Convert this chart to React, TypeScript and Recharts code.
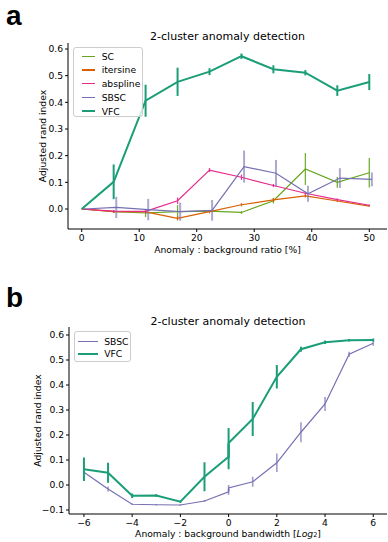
import React from 'react';
import { LineChart, Line, XAxis, YAxis, ErrorBar, Label } from 'recharts';

// panel a: anomaly : background ratio [%]
const ratioX = [0, 5.56, 11.11, 16.67, 22.22, 27.78, 33.33, 38.89, 44.44, 50];
// SBSC is plotted with a small dodge to the right
const ratioXDodged = [0.45, 6.01, 11.56, 17.12, 22.67, 28.23, 33.78, 39.34, 44.89, 50.45];

const scY = [0, -0.01, -0.015, -0.01, -0.008, -0.013, 0.031, 0.15, 0.1, 0.136];
const scErr = [0, 0.005, 0.015, 0.025, 0.005, 0.005, 0.01, 0.06, 0.02, 0.055];
const itersineY = [0, -0.01, -0.011, -0.035, -0.01, 0.016, 0.034, 0.049, 0.03, 0.011];
const itersineErr = [0, 0.004, 0.005, 0.008, 0.006, 0.006, 0.008, 0.006, 0.004, 0.003];
const abssplineY = [0, -0.008, -0.009, 0.031, 0.146, 0.119, 0.088, 0.059, 0.035, 0.014];
const abssplineErr = [0, 0.004, 0.005, 0.012, 0.008, 0.01, 0.006, 0.006, 0.004, 0.003];
const sbscAY = [0, 0.006, -0.002, -0.01, -0.005, 0.159, 0.134, 0.057, 0.116, 0.111];
const sbscAErr = [0, 0.04, 0.04, 0.034, 0.039, 0.06, 0.05, 0.03, 0.037, 0.026];
const vfcAY = [0, 0.102, 0.406, 0.477, 0.515, 0.573, 0.524, 0.511, 0.444, 0.476];
const vfcAErr = [0, 0.065, 0.06, 0.053, 0.013, 0.01, 0.015, 0.01, 0.02, 0.03];

const ratioTicks = [0, 10, 20, 30, 40, 50];
const ariTicksA = [0, 0.1, 0.2, 0.3, 0.4, 0.5, 0.6];

// panel b: anomaly : background bandwidth [log2]
const bwX = [-6, -5, -4, -3, -2, -1, 0, 0, 1, 2, 3, 4, 5, 6];
const sbscBY = [0.051, -0.016, -0.077, -0.079, -0.08, -0.064, -0.027, -0.012, 0.013, 0.089, 0.211, 0.324, 0.523, 0.567];
const sbscBErr = [0.005, 0.01, 0.003, 0.003, 0.003, 0.004, 0.012, 0.012, 0.02, 0.037, 0.04, 0.028, 0.01, 0.01];
const vfcBY = [0.063, 0.049, -0.043, -0.042, -0.067, 0.033, 0.113, 0.168, 0.264, 0.433, 0.543, 0.571, 0.579, 0.58];
const vfcBErr = [0.047, 0.04, 0.009, 0.005, 0.004, 0.058, 0.05, 0.06, 0.068, 0.047, 0.01, 0.007, 0.005, 0.006];

const bwTicks = [-6, -4, -2, 0, 2, 4, 6];
const ariTicksB = [-0.1, 0, 0.1, 0.2, 0.3, 0.4, 0.5, 0.6];

const FONT = '"DejaVu Sans", sans-serif';
const TICK_FS = 9.2;

const rows = (xs: number[], ys: number[], errs: number[]) =>
  xs.map((x, i) => ({ x, y: ys[i], err: errs[i] }));

const seriesA = [
  { name: 'SC', color: '#66a61e', xs: ratioX, ys: scY, errs: scErr, w: 1.2, ew: 1.3, eo: 0.9 },
  { name: 'itersine', color: '#d95f02', xs: ratioX, ys: itersineY, errs: itersineErr, w: 1.2, ew: 1.3, eo: 0.9 },
  { name: 'abspline', color: '#e7298a', xs: ratioX, ys: abssplineY, errs: abssplineErr, w: 1.2, ew: 1.3, eo: 0.9 },
  { name: 'SBSC', color: '#7570b3', xs: ratioXDodged, ys: sbscAY, errs: sbscAErr, w: 1.2, ew: 2, eo: 0.6 },
  { name: 'VFC', color: '#1b9e77', xs: ratioX, ys: vfcAY, errs: vfcAErr, w: 2, ew: 2, eo: 1 },
];

const seriesB = [
  { name: 'SBSC', color: '#7570b3', xs: bwX, ys: sbscBY, errs: sbscBErr, w: 1.2, ew: 1.6, eo: 0.7 },
  { name: 'VFC', color: '#1b9e77', xs: bwX, ys: vfcBY, errs: vfcBErr, w: 2, ew: 2, eo: 1 },
];

const minus = (v: number, digits: number) =>
  v < 0 ? '\u2212' + Math.abs(v).toFixed(digits) : v.toFixed(digits);

const tickStyle = { fontSize: TICK_FS, fill: '#000', fontFamily: FONT };

function renderSeries(list: typeof seriesA) {
  return list.map((s) => (
    <Line
      key={s.name}
      type="linear"
      data={rows(s.xs, s.ys, s.errs)}
      dataKey="y"
      stroke={s.color}
      strokeWidth={s.w}
      dot={false}
      activeDot={false}
      isAnimationActive={false}
    >
      <ErrorBar dataKey="err" direction="y" width={0} stroke={s.color} strokeWidth={s.ew} strokeOpacity={s.eo} isAnimationActive={false} />
    </Line>
  ));
}

function Legend({ items, style, sample, rowH }: any) {
  return (
    <div
      style={{
        position: 'absolute',
        background: 'rgba(255,255,255,0.8)',
        border: '1px solid #cccccc',
        borderRadius: 3,
        boxSizing: 'border-box',
        fontFamily: FONT,
        fontSize: TICK_FS,
        ...style,
      }}
    >
      {items.map((s: any) => (
        <div key={s.name} style={{ display: 'flex', alignItems: 'center', height: rowH }}>
          <span style={{ display: 'inline-block', width: sample.len, marginLeft: sample.pad, marginRight: sample.gap, height: s.w > 1.5 ? 2 : 1.3, background: s.color }} />
          <span style={{ lineHeight: 1 }}>{s.name}</span>
        </div>
      ))}
    </div>
  );
}

const xLabelA = (props: any) => {
  const vb = props.viewBox;
  return (
    <text x={vb.x + vb.width / 2} y={249} textAnchor="middle" dominantBaseline="central" fontSize={TICK_FS} fontFamily={FONT} fill="#000">
      Anomaly : background ratio [%]
    </text>
  );
};

const xLabelB = (props: any) => {
  const vb = props.viewBox;
  return (
    <text x={vb.x + vb.width / 2} y={263.3} textAnchor="middle" dominantBaseline="central" fontSize={TICK_FS} fontFamily={FONT} fill="#000">
      Anomaly : background bandwidth [<tspan fontStyle="italic">Log</tspan>
      <tspan fontSize={6.5} dy={2}>2</tspan>
      <tspan dy={-2}>]</tspan>
    </text>
  );
};

const yLabel = (cx: number) => (props: any) => {
  const vb = props.viewBox;
  const cy = vb.y + vb.height / 2;
  return (
    <text x={cx} y={cy} transform={`rotate(-90 ${cx} ${cy})`} textAnchor="middle" dominantBaseline="central" fontSize={TICK_FS} fontFamily={FONT} fill="#000">
      Adjusted rand index
    </text>
  );
};

const titleStyle: React.CSSProperties = {
  position: 'absolute',
  fontFamily: FONT,
  fontSize: 11,
  lineHeight: '11px',
  textAlign: 'center',
  color: '#000',
  whiteSpace: 'nowrap',
};

const letterStyle: React.CSSProperties = {
  position: 'absolute',
  fontFamily: '"Liberation Sans", Arial, sans-serif',
  fontWeight: 'bold',
  fontSize: 28,
  lineHeight: '20px',
  height: 20,
  left: 6,
};

export default function App() {
  const domA = [-2.38, 53.08];
  const domAY = [-0.075, 0.6225];
  const domB = [-6.62, 6.57];
  const domBY = [-0.116, 0.632];
  return (
    <div style={{ position: 'relative', width: 388, height: 542, background: '#fff', overflow: 'hidden' }}>
      <style>{'body{margin:0}'}</style>

      <div style={{ ...letterStyle, top: 6 }}>a</div>
      <div style={{ ...titleStyle, top: 30.5, left: 68, width: 319 }}>2-cluster anomaly detection</div>

      <div style={{ position: 'absolute', top: 0, left: 0 }}>
        <LineChart width={388} height={256} margin={{ top: 43, right: 1, bottom: 0, left: 8 }}>
          <XAxis
            dataKey="x"
            type="number"
            domain={domA}
            allowDataOverflow
            ticks={ratioTicks}
            tick={tickStyle}
            tickSize={3}
            tickMargin={2.5}
            stroke="#000"
            height={27}
            interval={0}
          >
            <Label content={xLabelA} />
          </XAxis>
          <XAxis xAxisId="top" orientation="top" type="number" domain={domA} allowDataOverflow tick={false} tickLine={false} height={0} stroke="#000" />
          <YAxis
            type="number"
            domain={domAY}
            allowDataOverflow
            ticks={ariTicksA}
            tickFormatter={(v: number) => v.toFixed(1)}
            tick={tickStyle}
            tickSize={3}
            tickMargin={2}
            stroke="#000"
            width={60}
            interval={0}
          >
            <Label content={yLabel(42)} />
          </YAxis>
          <YAxis yAxisId="right" orientation="right" type="number" domain={domAY} allowDataOverflow tick={false} tickLine={false} width={0} stroke="#000" />
          {renderSeries(seriesA)}
        </LineChart>
      </div>
      <Legend items={seriesA} sample={{ len: 13.3, pad: 8, gap: 6.7 }} rowH={13.75} style={{ left: 72.7, top: 47.3, width: 70.6, height: 70, paddingTop: 1 }} />

      <div style={{ ...letterStyle, top: 288.3 }}>b</div>
      <div style={{ ...titleStyle, top: 315.5, left: 69, width: 318 }}>2-cluster anomaly detection</div>

      <div style={{ position: 'absolute', top: 270, left: 0 }}>
        <LineChart width={388} height={272} margin={{ top: 57, right: 1, bottom: 0, left: 9 }}>
          <XAxis
            dataKey="x"
            type="number"
            domain={domB}
            allowDataOverflow
            ticks={bwTicks}
            tickFormatter={(v: number) => minus(v, 0)}
            tick={tickStyle}
            tickSize={3}
            tickMargin={2.5}
            stroke="#000"
            height={28}
            interval={0}
          >
            <Label content={xLabelB} />
          </XAxis>
          <XAxis xAxisId="top" orientation="top" type="number" domain={domB} allowDataOverflow tick={false} tickLine={false} height={0} stroke="#000" />
          <YAxis
            type="number"
            domain={domBY}
            allowDataOverflow
            ticks={ariTicksB}
            tickFormatter={(v: number) => minus(v, 1)}
            tick={tickStyle}
            tickSize={3}
            tickMargin={2}
            stroke="#000"
            width={60}
            interval={0}
          >
            <Label content={yLabel(37.5)} />
          </YAxis>
          <YAxis yAxisId="right" orientation="right" type="number" domain={domBY} allowDataOverflow tick={false} tickLine={false} width={0} stroke="#000" />
          {renderSeries(seriesB)}
        </LineChart>
      </div>
      <Legend items={seriesB} sample={{ len: 20, pad: 2.7, gap: 6.6 }} rowH={12.5} style={{ left: 74, top: 331, width: 57, height: 31.3, paddingTop: 3 }} />
    </div>
  );
}
